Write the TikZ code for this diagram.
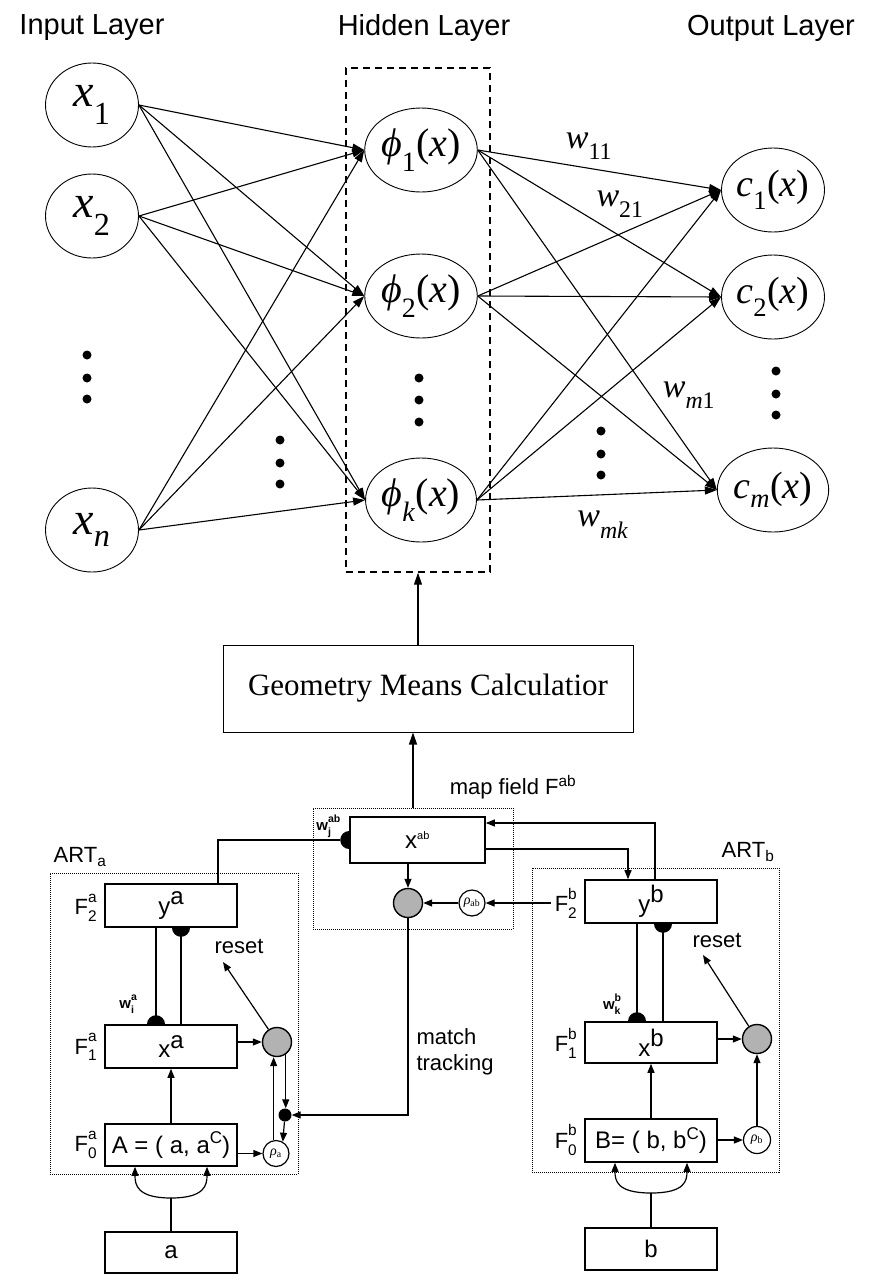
\documentclass[tikz,border=0pt]{standalone}
\usepackage{fontspec}
\setmainfont{Liberation Serif}
\setsansfont{Liberation Sans}
\usetikzlibrary{arrows.meta,shapes.geometric,positioning}

\newcommand{\vv}[1]{\textit{#1}}
\newcommand{\lsub}[1]{\raisebox{-.12em}{\textsubscript{#1}}}
\newcommand{\stk}[2]{\rlap{\raisebox{.22em}{\textsuperscript{#1}}}\raisebox{-.14em}{\textsubscript{#2}}}
\tikzset{
  syndown/.pic={\fill (9,0) arc[start angle=0,end angle=180,radius=9] -- cycle;},
  synup/.pic={\fill (9,0) arc[start angle=0,end angle=-180,radius=9] -- cycle;},
  synleft/.pic={\fill (0,9) arc[start angle=90,end angle=270,radius=9] -- cycle;}
}

\begin{document}
\begin{tikzpicture}[x=1pt,y=-1pt,
  neuron/.style={draw,line width=0.9pt,ellipse,minimum width=93pt,minimum height=84pt,inner sep=0pt},
  conn/.style={line width=1.1pt,-{Triangle[length=12pt,width=8pt]}},
  layer/.style={font=\sffamily\fontsize{29}{34}\selectfont},
  wlab/.style={font=\fontsize{34}{40}\selectfont},
  lblock/.style={draw,line width=1.6pt,minimum width=132pt,minimum height=43pt,inner sep=0pt,font=\sffamily\fontsize{24}{28}\selectfont},
  flab/.style={font=\sffamily\fontsize{22}{26}\selectfont},
  wsmall/.style={font=\sffamily\bfseries\fontsize{15}{16}\selectfont},
  sarr/.style={line width=1.2pt,-{Triangle[length=9pt,width=7pt]}},
  sline/.style={line width=1.2pt},
  gate/.style={circle,draw,line width=1.4pt,fill=gray!60,minimum size=29pt,inner sep=0pt},
  vig/.style={circle,draw,line width=1.2pt,fill=white,minimum size=26pt,inner sep=0pt,font=\fontsize{14}{15}\selectfont},
  frame/.style={draw,line width=0.8pt,dash pattern=on 1pt off 1pt,inner sep=0pt}
]
\useasboundingbox (0,0) rectangle (874,1275);

% layer titles
\node[layer] (inlab) at (92,28) {Input Layer};
\node[layer] (hidlab) at (424,28) {Hidden Layer};
\node[layer] (outlab) at (771,28) {Output Layer};

% input layer
\node[neuron,font=\fontsize{46}{52}\selectfont] (x1) at (92,105) {\vv{x}\lsub{1}};
\node[neuron,font=\fontsize{46}{52}\selectfont] (x2) at (92,216) {\vv{x}\lsub{2}};
\node[neuron,font=\fontsize{46}{52}\selectfont] (xn) at (92,530) {\vv{x}\lsub{\vv{n}}};

% hidden layer
\node[draw,line width=1.4pt,dash pattern=on 7pt off 5pt,minimum width=144pt,minimum height=504pt,inner sep=0pt] (hbox) at (418,320) {};
\node[neuron,font=\fontsize{40}{46}\selectfont] (h1) at (421,150) {\vv{ϕ}\lsub{1}(\vv{x})};
\node[neuron,font=\fontsize{40}{46}\selectfont] (h2) at (421,296) {\vv{ϕ}\lsub{2}(\vv{x})};
\node[neuron,font=\fontsize{40}{46}\selectfont] (hk) at (421,500) {\vv{ϕ}\lsub{\vv{k}}(\vv{x})};

% output layer
\node[neuron,font=\fontsize{38}{44}\selectfont] (c1) at (773,190) {\vv{c}\lsub{1}(\vv{x})};
\node[neuron,font=\fontsize{38}{44}\selectfont] (c2) at (773,297) {\vv{c}\lsub{2}(\vv{x})};
\node[neuron,font=\fontsize{38}{44}\selectfont] (cm) at (773,490) {\vv{c}\lsub{\vv{m}}(\vv{x})};

\foreach \i in {x1,x2,xn}
  \foreach \h in {h1,h2,hk}
    \draw[conn] (\i.east) -- (\h.west);
\foreach \h in {h1,h2,hk}
  \foreach \o in {c1,c2,cm}
    \draw[conn] (\h.east) -- (\o.west);

\foreach \x/\y in {87/355,87/378,87/399,280/440,280/463,280/484,419/378,419/400,419/422,
                   601/431,601/454,601/475,776/371,776/394,776/415}
  \fill (\x,\y) circle[radius=4.5];

\node[wlab] (w11) at (589,146) {\vv{w}\lsub{11}};
\node[wlab] (w21) at (620,204) {\vv{w}\lsub{21}};
\node[wlab] (wm1) at (689,395) {\vv{w}\lsub{\vv{m}1}};
\node[wlab] (wmk) at (603,525) {\vv{w}\lsub{\vv{mk}}};

% geometry means
\node[draw,line width=1pt,minimum width=410pt,minimum height=87pt,font=\fontsize{31}{36}\selectfont] (gmc) at (428,688.5) {Geometry Means Calculatior};
\draw[conn] (gmc.north -| hbox.south) -- (hbox.south);

% map field
\node[frame,minimum width=200pt,minimum height=121pt] (mapf) at (413,868.5) {};
\node[flab] (maplab) at (513,787) {map field F\textsuperscript{ab}};
\draw[conn] (mapf.north) -- (mapf.north |- gmc.south);
\node[lblock,minimum width=135pt,minimum height=46pt] (xab) at (417.5,840) {x\textsuperscript{\fontsize{11}{12}\selectfont ab}};
\node[gate] (mapc) at (408,903) {};
\node[vig] (rab) at (472,903) {\vv{ρ}\textsubscript{ab}};
\node[wsmall] (wjab) at (324,826) {w\stk{ab}{j}};
\pic at (xab.west) {synleft};
\draw[sarr] (mapc |- xab.south) -- (mapc);
\draw[sarr] (rab) -- (mapc);

% ART a
\node[frame,minimum width=248pt,minimum height=301pt] (arta) at (174,1023.5) {};
\node[flab] (artalab) at (80,857) {ART\textsubscript{a}};
\node[lblock] (ya) at (171,905.5) {y\raisebox{.4em}{a}};
\node[lblock] (xa) at (171,1046.5) {x\raisebox{.4em}{a}};
\node[lblock,minimum height=42pt] (Aa) at (171,1145) {A = ( a, a\raisebox{.4em}{\fontsize{17}{18}\selectfont C})};
\node[lblock,minimum height=41pt] (ain) at (171,1252.5) {a};
\node[flab] (f2a) at (86,908) {F\stk{a}{2}};
\node[flab] (f1a) at (86,1047) {F\stk{a}{1}};
\node[flab] (f0a) at (86,1145) {F\stk{a}{0}};
\node[gate] (resa) at (277,1042) {};
\node[vig] (rhoa) at (276,1153.5) {\vv{ρ}\textsubscript{a}};
\node[circle,fill,minimum size=13pt,inner sep=0pt] (mta) at (285,1115) {};
\node[wsmall] (wia) at (127,1004) {w\stk{a}{i}};
\draw[sline] ([xshift=-15pt]ya.south) -- ([xshift=-15pt]xa.north);
\draw[sline] ([xshift=10pt]ya.south) -- ([xshift=10pt]xa.north);
\pic at ([xshift=10pt]ya.south) {syndown};
\pic at ([xshift=-15pt]xa.north) {synup};
\draw[sarr] (Aa) -- (xa);
\draw[sarr] (xa.east |- resa) -- (resa);
\draw[sarr] (Aa.east |- rhoa) -- (rhoa);
\draw[sarr] (rhoa.100) -- (rhoa.100 |- resa.south);
\draw[sarr] (resa.-55) -- (resa.-55 |- mta.north);
\draw[sarr] (mta) -- (rhoa.60);
\coordinate (rsta) at (223,962);
\draw[sarr] (resa) -- (rsta);
\node[flab] (rstalab) at (239,946) {reset};
\draw[sline] ([xshift=47pt]ya.north) |- ([xshift=-9pt]xab.west);
\coordinate (forka) at (171,1198);
\draw[sline] (ain.north) -- (forka);
\draw[sarr] (forka) .. controls ([xshift=-34pt]forka) and ([xshift=-36pt,yshift=-18pt]Aa.south) .. ([xshift=-36pt]Aa.south);
\draw[sarr] (forka) .. controls ([xshift=34pt]forka) and ([xshift=36pt,yshift=-18pt]Aa.south) .. ([xshift=36pt]Aa.south);

% match tracking
\draw[sarr] (mapc) |- (mta);
\node[flab,anchor=west,align=left] (mtlab) at (413,1052) {match\\tracking};

% ART b
\node[frame,minimum width=247pt,minimum height=304pt] (artb) at (655.5,1020) {};
\node[flab] (artblab) at (748,852) {ART\textsubscript{b}};
\node[lblock] (yb) at (651,901.5) {y\raisebox{.4em}{b}};
\node[lblock,minimum height=41pt] (xb) at (651,1042.5) {x\raisebox{.4em}{b}};
\node[lblock] (Bb) at (651,1140.5) {B= ( b, b\raisebox{.4em}{\fontsize{17}{18}\selectfont C})};
\node[lblock,minimum height=42pt] (bin) at (651,1249) {b};
\node[flab] (f2b) at (566,903) {F\stk{b}{2}};
\node[flab] (f1b) at (566,1043) {F\stk{b}{1}};
\node[flab] (f0b) at (566,1140) {F\stk{b}{0}};
\node[gate] (resb) at (757,1039) {};
\node[vig,minimum size=27pt] (rhob) at (757,1140) {\vv{ρ}\textsubscript{b}};
\node[wsmall] (wkb) at (612,1004) {w\stk{b}{k}};
\draw[sline] ([xshift=-14pt]yb.south) -- ([xshift=-14pt]xb.north);
\draw[sline] ([xshift=12pt]yb.south) -- ([xshift=12pt]xb.north);
\pic at ([xshift=12pt]yb.south) {syndown};
\pic at ([xshift=-14pt]xb.north) {synup};
\draw[sarr] (Bb) -- (xb);
\draw[sarr] (xb.east |- resb) -- (resb);
\draw[sarr] (Bb.east |- rhob) -- (rhob);
\draw[sarr] (rhob) -- (resb);
\coordinate (rstb) at (703,955);
\draw[sarr] (resb) -- (rstb);
\node[flab] (rstblab) at (717,940) {reset};
\draw[sarr] (f2b.west) -- (rab);
\draw[sarr] ([xshift=4pt]yb.north) |- ([yshift=17pt]xab.east);
\draw[sarr] ([yshift=-9pt]xab.east) -| ([xshift=-23pt]yb.north);
\coordinate (forkb) at (651,1193);
\draw[sline] (bin.north) -- (forkb);
\draw[sarr] (forkb) .. controls ([xshift=-34pt]forkb) and ([xshift=-36pt,yshift=-18pt]Bb.south) .. ([xshift=-36pt]Bb.south);
\draw[sarr] (forkb) .. controls ([xshift=34pt]forkb) and ([xshift=36pt,yshift=-18pt]Bb.south) .. ([xshift=36pt]Bb.south);
\end{tikzpicture}
\end{document}
